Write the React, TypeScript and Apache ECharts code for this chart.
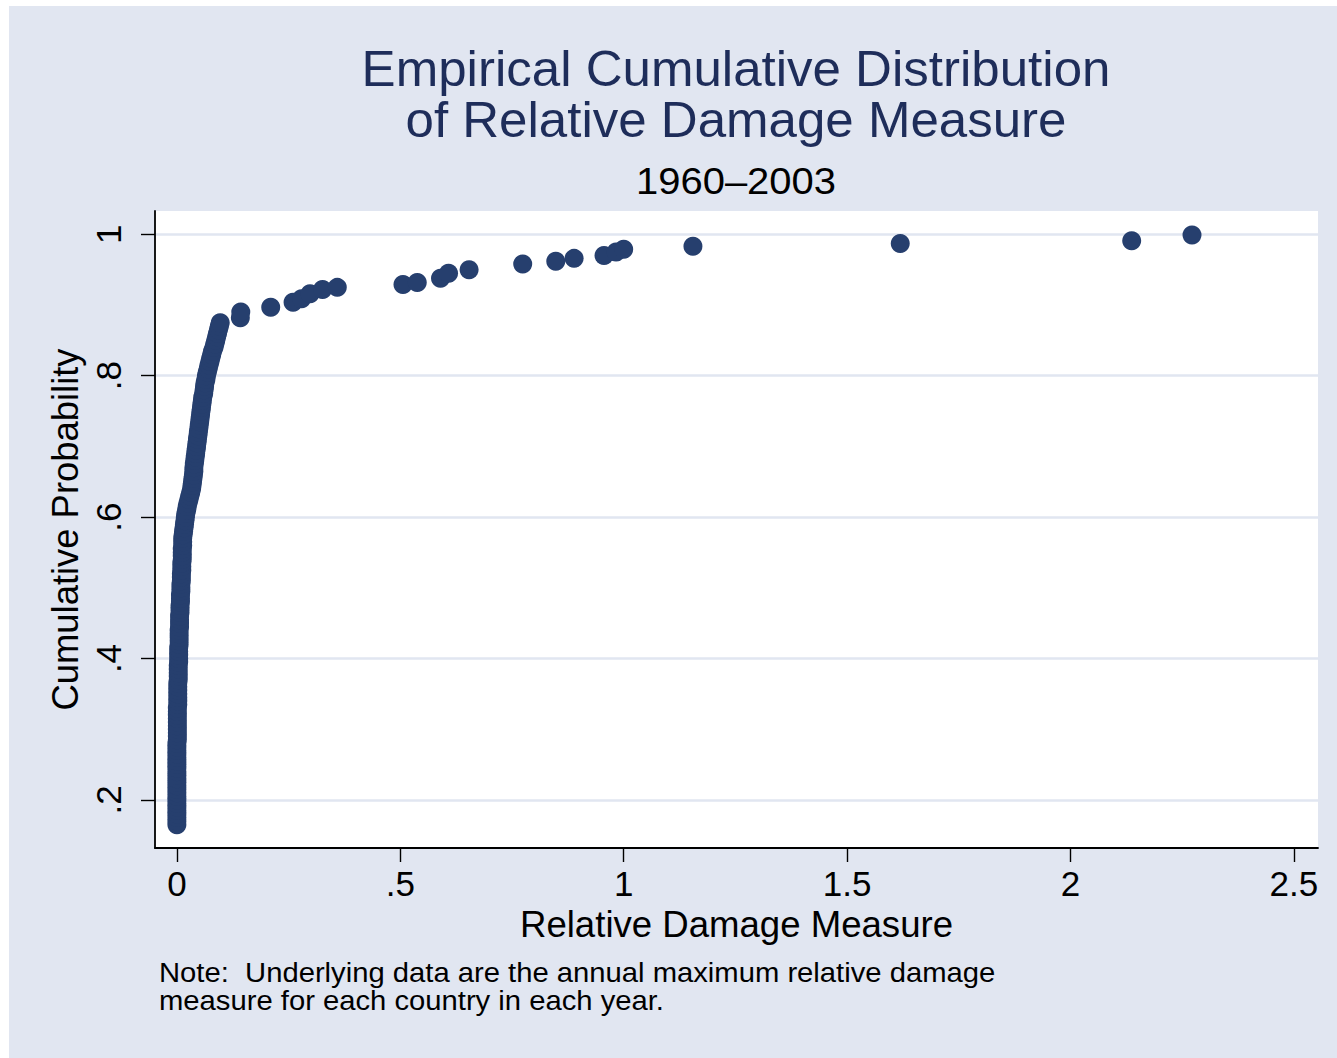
import React, { useEffect, useRef } from "react";
import * as echarts from "echarts";

const titleLines = ["Empirical Cumulative Distribution", "of Relative Damage Measure"];
const subtitle = "1960–2003";
const xTitle = "Relative Damage Measure";
const yTitle = "Cumulative Probability";
const noteLines = [
  "Note:  Underlying data are the annual maximum relative damage",
  "measure for each country in each year.",
];
const xTicks = [0, 0.5, 1, 1.5, 2, 2.5];
const yTicks = [0.2, 0.4, 0.6, 0.8, 1];

// [relative damage, cumulative probability] — dense part near zero
const clusterPoints = [
  [0.000, 0.165], [0.000, 0.170], [0.000, 0.175], [0.000, 0.180], [0.000, 0.185], [0.000, 0.190],
  [0.000, 0.195], [0.000, 0.200], [0.000, 0.205], [0.000, 0.210], [0.000, 0.215], [0.000, 0.220],
  [0.000, 0.225], [0.000, 0.230], [0.000, 0.235], [0.000, 0.240], [0.000, 0.245], [0.000, 0.250],
  [0.000, 0.255], [0.000, 0.260], [0.000, 0.265], [0.000, 0.270], [0.000, 0.275], [0.000, 0.280],
  [0.001, 0.285], [0.001, 0.290], [0.001, 0.295], [0.001, 0.300], [0.001, 0.305], [0.001, 0.310],
  [0.001, 0.315], [0.001, 0.320], [0.001, 0.325], [0.001, 0.330], [0.002, 0.335], [0.002, 0.340],
  [0.002, 0.345], [0.002, 0.350], [0.002, 0.355], [0.002, 0.360], [0.002, 0.365], [0.003, 0.370],
  [0.003, 0.375], [0.003, 0.380], [0.003, 0.385], [0.003, 0.390], [0.004, 0.395], [0.004, 0.400],
  [0.004, 0.405], [0.004, 0.410], [0.004, 0.415], [0.005, 0.420], [0.005, 0.425], [0.005, 0.430],
  [0.005, 0.435], [0.005, 0.440], [0.006, 0.445], [0.006, 0.450], [0.006, 0.455], [0.006, 0.460],
  [0.007, 0.465], [0.007, 0.470], [0.007, 0.475], [0.008, 0.480], [0.008, 0.485], [0.008, 0.490],
  [0.009, 0.495], [0.009, 0.500], [0.009, 0.505], [0.010, 0.510], [0.010, 0.515], [0.010, 0.520],
  [0.011, 0.525], [0.011, 0.530], [0.011, 0.535], [0.012, 0.540], [0.012, 0.545], [0.012, 0.550],
  [0.012, 0.555], [0.013, 0.560], [0.013, 0.565], [0.013, 0.570], [0.014, 0.575], [0.015, 0.580],
  [0.016, 0.585], [0.017, 0.590], [0.018, 0.595], [0.019, 0.600], [0.020, 0.605], [0.022, 0.610],
  [0.023, 0.615], [0.025, 0.620], [0.027, 0.625], [0.029, 0.630], [0.031, 0.635], [0.033, 0.640],
  [0.034, 0.645], [0.035, 0.650], [0.036, 0.655], [0.037, 0.660], [0.038, 0.665], [0.038, 0.670],
  [0.039, 0.675], [0.040, 0.680], [0.041, 0.685], [0.042, 0.690], [0.043, 0.695], [0.044, 0.700],
  [0.045, 0.705], [0.046, 0.710], [0.047, 0.715], [0.048, 0.720], [0.049, 0.725], [0.050, 0.730],
  [0.051, 0.735], [0.052, 0.740], [0.053, 0.745], [0.054, 0.750], [0.055, 0.755], [0.056, 0.760],
  [0.057, 0.765], [0.058, 0.770], [0.060, 0.775], [0.061, 0.780], [0.062, 0.785], [0.063, 0.790],
  [0.065, 0.795], [0.066, 0.800], [0.068, 0.805], [0.070, 0.810], [0.072, 0.815], [0.074, 0.820],
  [0.076, 0.825], [0.078, 0.830], [0.080, 0.835], [0.083, 0.840], [0.085, 0.845], [0.087, 0.850],
  [0.089, 0.855], [0.091, 0.860], [0.093, 0.865], [0.095, 0.870], [0.097, 0.875],
];

// sparse upper tail
const tailPoints = [
  [0.142, 0.882], [0.143, 0.890], [0.210, 0.897], [0.260, 0.904], [0.279, 0.909], [0.298, 0.916],
  [0.326, 0.922], [0.359, 0.925], [0.506, 0.929], [0.538, 0.932], [0.590, 0.938], [0.608, 0.945],
  [0.654, 0.950], [0.774, 0.958], [0.848, 0.962], [0.889, 0.966], [0.956, 0.970], [0.983, 0.975],
  [1.000, 0.979], [1.155, 0.983], [1.619, 0.987], [2.137, 0.991], [2.272, 0.999],
];

const BG = "#E1E6F1";
const MARK = "#263F6E";
const TITLE = "#1E2D5A";
const FONT = '"Liberation Sans", Arial, Helvetica, sans-serif';

const stataFmt = (v: number) => {
  const s = String(Math.round(v * 1000) / 1000);
  return s.startsWith("0.") ? s.slice(1) : s;
};

function textEl(
  text: string,
  x: number,
  y: number,
  size: number,
  color: string,
  align: string,
  scaleX: number
) {
  return {
    type: "text",
    x,
    y,
    scaleX,
    silent: true,
    style: {
      text,
      fill: color,
      fontSize: size,
      fontFamily: FONT,
      lineHeight: size,
      align,
      textAlign: align,
      verticalAlign: "bottom",
      textVerticalAlign: "bottom",
    },
  };
}

export default function App() {
  const ref = useRef<HTMLDivElement>(null);

  useEffect(() => {
    if (!ref.current) return;
    const chart = echarts.init(ref.current, undefined, { renderer: "svg" });
    const cx = 727;
    chart.setOption({
      animation: false,
      backgroundColor: BG,
      grid: {
        left: 146,
        top: 205,
        right: 19,
        bottom: 210,
        show: true,
        backgroundColor: "#ffffff",
        borderWidth: 0,
        containLabel: false,
        outerBoundsMode: "none",
      },
      xAxis: {
        type: "value",
        min: -0.049,
        max: 2.554,
        axisLine: { show: true, onZero: false, lineStyle: { color: "#000", width: 1.8 } },
        axisTick: { show: true, length: 14, customValues: xTicks, lineStyle: { color: "#000", width: 1.4 } },
        axisLabel: {
          customValues: xTicks,
          formatter: stataFmt,
          fontSize: 35,
          fontFamily: FONT,
          color: "#000",
          margin: 18,
          hideOverlap: false,
        },
        splitLine: { show: false },
        name: xTitle,
        nameLocation: "middle",
        nameGap: 57,
        nameTextStyle: { fontSize: 36.6, fontFamily: FONT, color: "#000" },
      },
      yAxis: {
        type: "value",
        min: 0.132,
        max: 1.033,
        axisLine: { show: true, onZero: false, lineStyle: { color: "#000", width: 1.8 } },
        axisTick: { show: true, length: 14, customValues: yTicks, lineStyle: { color: "#000", width: 1.4 } },
        axisLabel: {
          customValues: yTicks,
          formatter: stataFmt,
          rotate: 90,
          fontSize: 35,
          fontFamily: FONT,
          color: "#000",
          margin: 29,
          hideOverlap: false,
        },
        splitLine: { show: true, customValues: yTicks, lineStyle: { color: BG, width: 2.5 } },
        name: yTitle,
        nameLocation: "middle",
        nameRotate: 90,
        nameGap: 64,
        nameTextStyle: { fontSize: 36.4, fontFamily: FONT, color: "#000" },
      },
      series: [
        {
          type: "scatter",
          data: [...clusterPoints, ...tailPoints],
          symbol: "circle",
          symbolSize: 19,
          itemStyle: { color: MARK, opacity: 1 },
          silent: true,
          emphasis: { disabled: true },
        },
      ],
      graphic: [
        textEl(titleLines[0], cx, 87.5, 50, TITLE, "center", 1.021),
        textEl(titleLines[1], cx, 138.5, 50, TITLE, "center", 1.021),
        textEl(subtitle, cx, 193.5, 37, "#000", "center", 1.08),
        textEl(noteLines[0], 150, 980, 27.5, "#000", "left", 1.063),
        textEl(noteLines[1], 150, 1008, 27.5, "#000", "left", 1.063),
      ],
    });
    return () => chart.dispose();
  }, []);

  return (
    <div style={{ position: "fixed", left: 0, top: 0, width: 1337, height: 1058, background: "#fff" }}>
      <div ref={ref} style={{ position: "absolute", left: 9, top: 6, width: 1328, height: 1052 }} />
    </div>
  );
}
